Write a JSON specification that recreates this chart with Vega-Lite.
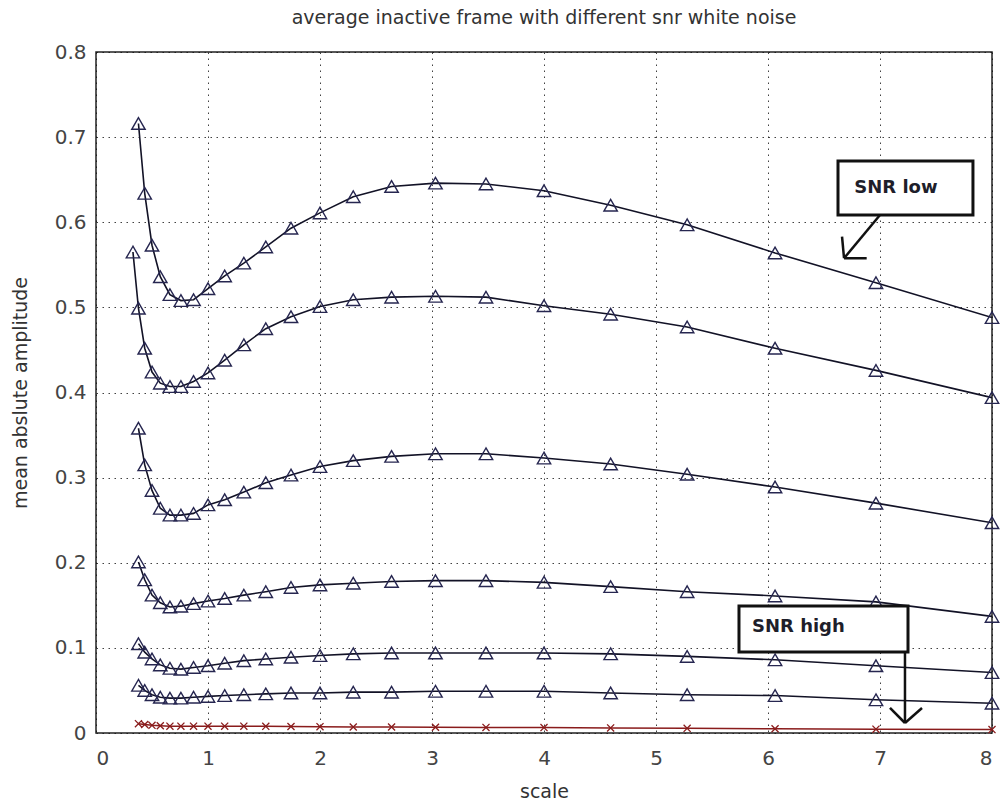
{
  "$schema": "https://vega.github.io/schema/vega-lite/v6.json",
  "width": 896,
  "height": 681,
  "autosize": {"type": "none"},
  "padding": {"left": 96, "top": 52, "right": 12, "bottom": 70},
  "background": "white",
  "title": {
    "text": "average inactive frame with different snr white noise",
    "font": "DejaVu Sans",
    "fontSize": 19,
    "fontWeight": "normal",
    "color": "#333333",
    "anchor": "middle",
    "offset": 14
  },
  "config": {
    "view": {"stroke": "#222222", "strokeWidth": 1.5},
    "axis": {
      "labelFont": "DejaVu Sans",
      "labelFontSize": 20,
      "labelColor": "#444444",
      "titleFont": "DejaVu Sans",
      "titleFontSize": 19,
      "titleFontWeight": "normal",
      "titleColor": "#333333",
      "grid": true,
      "gridColor": "#111111",
      "gridDash": [1.5, 4.5],
      "gridWidth": 1,
      "gridOpacity": 0.8,
      "domain": false,
      "ticks": false
    }
  },
  "datasets": {
    "curves": [
      {"s": "c1", "x": 0.379, "y": 0.716}, {"s": "c1", "x": 0.435, "y": 0.634}, {"s": "c1", "x": 0.5, "y": 0.573}, {"s": "c1", "x": 0.574, "y": 0.536}, {"s": "c1", "x": 0.66, "y": 0.515}, {"s": "c1", "x": 0.758, "y": 0.508}, {"s": "c1", "x": 0.871, "y": 0.509}, {"s": "c1", "x": 1.0, "y": 0.522}, {"s": "c1", "x": 1.149, "y": 0.537}, {"s": "c1", "x": 1.32, "y": 0.552}, {"s": "c1", "x": 1.516, "y": 0.571}, {"s": "c1", "x": 1.741, "y": 0.593}, {"s": "c1", "x": 2.0, "y": 0.611}, {"s": "c1", "x": 2.297, "y": 0.63}, {"s": "c1", "x": 2.639, "y": 0.642}, {"s": "c1", "x": 3.031, "y": 0.646}, {"s": "c1", "x": 3.482, "y": 0.645}, {"s": "c1", "x": 4.0, "y": 0.637}, {"s": "c1", "x": 4.595, "y": 0.62}, {"s": "c1", "x": 5.278, "y": 0.597}, {"s": "c1", "x": 6.063, "y": 0.564}, {"s": "c1", "x": 6.964, "y": 0.529}, {"s": "c1", "x": 8.0, "y": 0.488},

      {"s": "c2", "x": 0.33, "y": 0.565}, {"s": "c2", "x": 0.379, "y": 0.499}, {"s": "c2", "x": 0.435, "y": 0.452}, {"s": "c2", "x": 0.5, "y": 0.424}, {"s": "c2", "x": 0.574, "y": 0.411}, {"s": "c2", "x": 0.66, "y": 0.407}, {"s": "c2", "x": 0.758, "y": 0.407}, {"s": "c2", "x": 0.871, "y": 0.413}, {"s": "c2", "x": 1.0, "y": 0.423}, {"s": "c2", "x": 1.149, "y": 0.438}, {"s": "c2", "x": 1.32, "y": 0.456}, {"s": "c2", "x": 1.516, "y": 0.475}, {"s": "c2", "x": 1.741, "y": 0.489}, {"s": "c2", "x": 2.0, "y": 0.501}, {"s": "c2", "x": 2.297, "y": 0.509}, {"s": "c2", "x": 2.639, "y": 0.512}, {"s": "c2", "x": 3.031, "y": 0.513}, {"s": "c2", "x": 3.482, "y": 0.512}, {"s": "c2", "x": 4.0, "y": 0.502}, {"s": "c2", "x": 4.595, "y": 0.492}, {"s": "c2", "x": 5.278, "y": 0.477}, {"s": "c2", "x": 6.063, "y": 0.452}, {"s": "c2", "x": 6.964, "y": 0.426}, {"s": "c2", "x": 8.0, "y": 0.394},

      {"s": "c3", "x": 0.379, "y": 0.358}, {"s": "c3", "x": 0.435, "y": 0.315}, {"s": "c3", "x": 0.5, "y": 0.285}, {"s": "c3", "x": 0.574, "y": 0.264}, {"s": "c3", "x": 0.66, "y": 0.256}, {"s": "c3", "x": 0.758, "y": 0.256}, {"s": "c3", "x": 0.871, "y": 0.258}, {"s": "c3", "x": 1.0, "y": 0.268}, {"s": "c3", "x": 1.149, "y": 0.274}, {"s": "c3", "x": 1.32, "y": 0.283}, {"s": "c3", "x": 1.516, "y": 0.294}, {"s": "c3", "x": 1.741, "y": 0.303}, {"s": "c3", "x": 2.0, "y": 0.313}, {"s": "c3", "x": 2.297, "y": 0.32}, {"s": "c3", "x": 2.639, "y": 0.325}, {"s": "c3", "x": 3.031, "y": 0.328}, {"s": "c3", "x": 3.482, "y": 0.328}, {"s": "c3", "x": 4.0, "y": 0.323}, {"s": "c3", "x": 4.595, "y": 0.316}, {"s": "c3", "x": 5.278, "y": 0.304}, {"s": "c3", "x": 6.063, "y": 0.289}, {"s": "c3", "x": 6.964, "y": 0.27}, {"s": "c3", "x": 8.0, "y": 0.247},

      {"s": "c4", "x": 0.379, "y": 0.201}, {"s": "c4", "x": 0.435, "y": 0.18}, {"s": "c4", "x": 0.5, "y": 0.162}, {"s": "c4", "x": 0.574, "y": 0.153}, {"s": "c4", "x": 0.66, "y": 0.148}, {"s": "c4", "x": 0.758, "y": 0.149}, {"s": "c4", "x": 0.871, "y": 0.152}, {"s": "c4", "x": 1.0, "y": 0.155}, {"s": "c4", "x": 1.149, "y": 0.158}, {"s": "c4", "x": 1.32, "y": 0.162}, {"s": "c4", "x": 1.516, "y": 0.166}, {"s": "c4", "x": 1.741, "y": 0.171}, {"s": "c4", "x": 2.0, "y": 0.174}, {"s": "c4", "x": 2.297, "y": 0.176}, {"s": "c4", "x": 2.639, "y": 0.178}, {"s": "c4", "x": 3.031, "y": 0.179}, {"s": "c4", "x": 3.482, "y": 0.179}, {"s": "c4", "x": 4.0, "y": 0.177}, {"s": "c4", "x": 4.595, "y": 0.172}, {"s": "c4", "x": 5.278, "y": 0.166}, {"s": "c4", "x": 6.063, "y": 0.161}, {"s": "c4", "x": 6.964, "y": 0.154}, {"s": "c4", "x": 8.0, "y": 0.137},

      {"s": "c5", "x": 0.379, "y": 0.105}, {"s": "c5", "x": 0.435, "y": 0.095}, {"s": "c5", "x": 0.5, "y": 0.087}, {"s": "c5", "x": 0.574, "y": 0.08}, {"s": "c5", "x": 0.66, "y": 0.076}, {"s": "c5", "x": 0.758, "y": 0.075}, {"s": "c5", "x": 0.871, "y": 0.077}, {"s": "c5", "x": 1.0, "y": 0.079}, {"s": "c5", "x": 1.149, "y": 0.082}, {"s": "c5", "x": 1.32, "y": 0.085}, {"s": "c5", "x": 1.516, "y": 0.087}, {"s": "c5", "x": 1.741, "y": 0.089}, {"s": "c5", "x": 2.0, "y": 0.091}, {"s": "c5", "x": 2.297, "y": 0.093}, {"s": "c5", "x": 2.639, "y": 0.094}, {"s": "c5", "x": 3.031, "y": 0.094}, {"s": "c5", "x": 3.482, "y": 0.094}, {"s": "c5", "x": 4.0, "y": 0.094}, {"s": "c5", "x": 4.595, "y": 0.093}, {"s": "c5", "x": 5.278, "y": 0.09}, {"s": "c5", "x": 6.063, "y": 0.086}, {"s": "c5", "x": 6.964, "y": 0.079}, {"s": "c5", "x": 8.0, "y": 0.071},

      {"s": "c6", "x": 0.379, "y": 0.056}, {"s": "c6", "x": 0.435, "y": 0.05}, {"s": "c6", "x": 0.5, "y": 0.045}, {"s": "c6", "x": 0.574, "y": 0.042}, {"s": "c6", "x": 0.66, "y": 0.041}, {"s": "c6", "x": 0.758, "y": 0.041}, {"s": "c6", "x": 0.871, "y": 0.042}, {"s": "c6", "x": 1.0, "y": 0.043}, {"s": "c6", "x": 1.149, "y": 0.044}, {"s": "c6", "x": 1.32, "y": 0.045}, {"s": "c6", "x": 1.516, "y": 0.046}, {"s": "c6", "x": 1.741, "y": 0.047}, {"s": "c6", "x": 2.0, "y": 0.047}, {"s": "c6", "x": 2.297, "y": 0.048}, {"s": "c6", "x": 2.639, "y": 0.048}, {"s": "c6", "x": 3.031, "y": 0.049}, {"s": "c6", "x": 3.482, "y": 0.049}, {"s": "c6", "x": 4.0, "y": 0.049}, {"s": "c6", "x": 4.595, "y": 0.047}, {"s": "c6", "x": 5.278, "y": 0.045}, {"s": "c6", "x": 6.063, "y": 0.044}, {"s": "c6", "x": 6.964, "y": 0.039}, {"s": "c6", "x": 8.0, "y": 0.035}
    ],
    "floor": [
      {"x": 0.379, "y": 0.011}, {"x": 0.435, "y": 0.01}, {"x": 0.5, "y": 0.009}, {"x": 0.574, "y": 0.0085}, {"x": 0.66, "y": 0.008}, {"x": 0.758, "y": 0.008}, {"x": 0.871, "y": 0.008}, {"x": 1.0, "y": 0.008}, {"x": 1.149, "y": 0.008}, {"x": 1.32, "y": 0.008}, {"x": 1.516, "y": 0.0078}, {"x": 1.741, "y": 0.0076}, {"x": 2.0, "y": 0.0074}, {"x": 2.297, "y": 0.007}, {"x": 2.639, "y": 0.007}, {"x": 3.031, "y": 0.0068}, {"x": 3.482, "y": 0.0066}, {"x": 4.0, "y": 0.0064}, {"x": 4.595, "y": 0.006}, {"x": 5.278, "y": 0.0055}, {"x": 6.063, "y": 0.005}, {"x": 6.964, "y": 0.0045}, {"x": 8.0, "y": 0.004}
    ],
    "boxes": [
      {"x": 6.625, "x2": 7.83, "y": 0.6085, "y2": 0.672},
      {"x": 5.741, "x2": 7.25, "y": 0.0952, "y2": 0.1492}
    ],
    "labels": [
      {"x": 6.77, "y": 0.634, "t": "SNR low"},
      {"x": 5.857, "y": 0.1187, "t": "SNR high"}
    ],
    "arrows": [
      {"x": 7.0, "y": 0.6085, "x2": 6.679, "y2": 0.5577},
      {"x": 6.679, "y": 0.5577, "x2": 6.661, "y2": 0.583},
      {"x": 6.679, "y": 0.5577, "x2": 6.881, "y2": 0.5577},
      {"x": 7.223, "y": 0.0952, "x2": 7.223, "y2": 0.01175},
      {"x": 7.223, "y": 0.01175, "x2": 7.089, "y2": 0.0294},
      {"x": 7.223, "y": 0.01175, "x2": 7.375, "y2": 0.0294}
    ]
  },
  "layer": [
    {
      "data": {"name": "curves"},
      "mark": {"type": "line", "color": "#121226", "strokeWidth": 1.6, "clip": true},
      "encoding": {
        "x": {"field": "x", "type": "quantitative", "scale": {"domain": [0, 8], "nice": false}, "axis": {"values": [0, 1, 2, 3, 4, 5, 6, 7, 8], "format": "d", "title": "scale", "labelPadding": 15, "titlePadding": 14}},
        "y": {"field": "y", "type": "quantitative", "scale": {"domain": [0, 0.8], "nice": false}, "axis": {"values": [0, 0.1, 0.2, 0.3, 0.4, 0.5, 0.6, 0.7, 0.8], "format": ".1~f", "title": "mean abslute amplitude", "labelPadding": 10, "titlePadding": 24}},
        "detail": {"field": "s"}
      }
    },
    {
      "data": {"name": "curves"},
      "mark": {"type": "point", "shape": "triangle-up", "filled": false, "stroke": "#262650", "strokeWidth": 1.4, "size": 180, "opacity": 1},
      "encoding": {
        "x": {"field": "x", "type": "quantitative"},
        "y": {"field": "y", "type": "quantitative"}
      }
    },
    {
      "data": {"name": "floor"},
      "mark": {"type": "line", "color": "#8a1c1c", "strokeWidth": 1.5},
      "encoding": {
        "x": {"field": "x", "type": "quantitative"},
        "y": {"field": "y", "type": "quantitative"}
      }
    },
    {
      "data": {"name": "floor"},
      "mark": {"type": "point", "shape": "M-1,-1L1,1M-1,1L1,-1", "filled": false, "stroke": "#8a1c1c", "strokeWidth": 1.3, "size": 50, "opacity": 1},
      "encoding": {
        "x": {"field": "x", "type": "quantitative"},
        "y": {"field": "y", "type": "quantitative"}
      }
    },
    {
      "data": {"name": "boxes"},
      "mark": {"type": "rect", "fill": "white", "stroke": "#111111", "strokeWidth": 3},
      "encoding": {
        "x": {"field": "x", "type": "quantitative"},
        "x2": {"field": "x2"},
        "y": {"field": "y", "type": "quantitative"},
        "y2": {"field": "y2"}
      }
    },
    {
      "data": {"name": "labels"},
      "mark": {"type": "text", "align": "left", "baseline": "alphabetic", "font": "DejaVu Sans", "fontSize": 18, "fontWeight": "bold", "color": "#1e1e2a"},
      "encoding": {
        "x": {"field": "x", "type": "quantitative"},
        "y": {"field": "y", "type": "quantitative"},
        "text": {"field": "t"}
      }
    },
    {
      "data": {"name": "arrows"},
      "mark": {"type": "rule", "color": "#111111", "strokeWidth": 2.5},
      "encoding": {
        "x": {"field": "x", "type": "quantitative"},
        "x2": {"field": "x2"},
        "y": {"field": "y", "type": "quantitative"},
        "y2": {"field": "y2"}
      }
    }
  ]
}
